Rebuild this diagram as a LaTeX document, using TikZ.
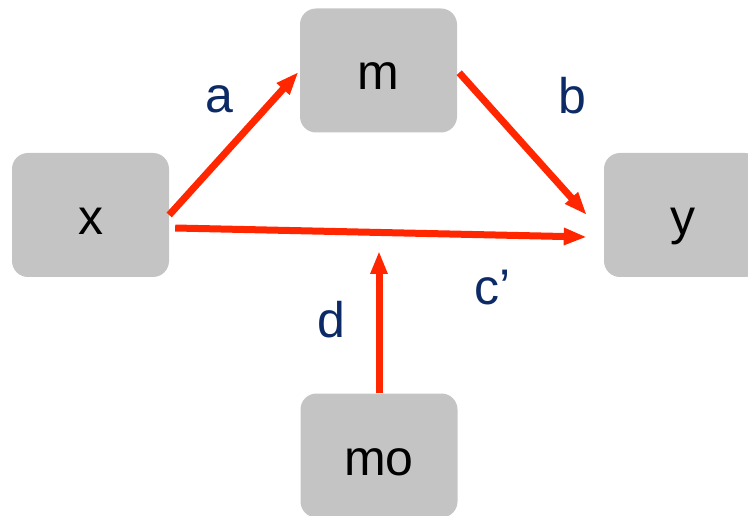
\documentclass[tikz,border=0pt]{standalone}
\usepackage{fontspec}
\setmainfont{Liberation Sans}
\usetikzlibrary{arrows.meta}
\definecolor{boxgray}{RGB}{196,196,196}
\definecolor{arrowred}{RGB}{255,38,0}
\definecolor{labelblue}{RGB}{12,42,102}
\tikzset{
    box/.style = {rectangle, rounded corners=16pt, fill=boxgray, minimum width=157pt, minimum height=124pt, inner sep=0pt, text height=39pt, text depth=0pt, font=\fontsize{50}{60}\selectfont},
    coef/.style = {text=labelblue, inner sep=0pt, font=\fontsize{50}{60}\selectfont},
    edger/.style = {-{Triangle[length=23pt,width=16pt]}, line width=7pt, draw=arrowred},
}

\begin{document}
\begin{tikzpicture}[x=1pt,y=-1pt]
  \useasboundingbox (0,0) rectangle (748,516);
  \clip (0,0) rectangle (748,516);

  \node[box] (nx) at (90.5,215) {x};
  \node[box] (nm) at (378.5,70.5) {m};
  \node[box] (ny) at (682.5,215) {y};
  \node[box] (nmo) at (379,455.5) {mo};
  \coordinate (dtip) at (379,251);

  \node[coef] (la) at (219,99) {a};
  \node[coef] (lb) at (572,96) {b};
  \node[coef] (lc) at (493,288) {c’};
  \node[coef] (ld) at (331,320) {d};

  \draw[edger, shorten >=2pt] (nx.east) -- (nm.west);
  \draw[edger, shorten <=3pt] (nm.east) -- ([xshift=-17pt]ny.west);
  \draw[edger] ([xshift=6pt,yshift=-13pt]nx.east) -- ([xshift=-17pt,yshift=-22pt]ny.west);
  \draw[edger] (nmo.north) -- (dtip);
\end{tikzpicture}
\end{document}
